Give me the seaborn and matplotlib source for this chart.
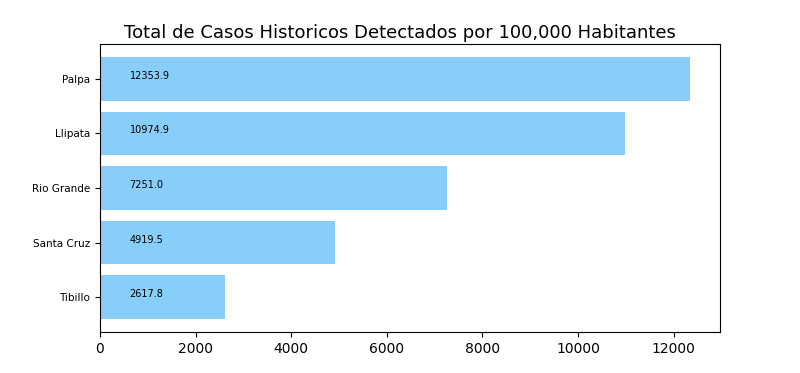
import matplotlib
matplotlib.use("Agg")
import matplotlib.pyplot as plt
import seaborn as sns
import pandas as pd

districts = ["Palpa", "Llipata", "Rio Grande", "Santa Cruz", "Tibillo"]
cases = [12353.9, 10974.9, 7251.0, 4919.5, 2617.8]
title = "Total de Casos Historicos Detectados por 100,000 Habitantes"

df = pd.DataFrame({"district": districts, "cases": cases})

fig, ax = plt.subplots(figsize=(8, 3.73), dpi=100)
fig.subplots_adjust(left=0.125, right=0.9, top=0.882, bottom=0.11)
sns.barplot(data=df, y="district", x="cases", orient="h", color="#87CEFA",
            saturation=1, width=0.8, ax=ax)
ax.set_xlim(0, max(cases) * 1.05)
ax.set_ylim(len(districts) - 0.36, -0.64)
for i, v in enumerate(cases):
    ax.text(620, i, f"{v:.1f}", fontsize=7, va="baseline", ha="left")
ax.set_xlabel("")
ax.set_ylabel("")
ax.tick_params(axis="y", labelsize=7.5)
ax.tick_params(axis="x", labelsize=10)
fig.text(0.5, 1 - 38 / 373, title, fontsize=13, ha="center", va="baseline")
fig.savefig("out.png", dpi=100)
